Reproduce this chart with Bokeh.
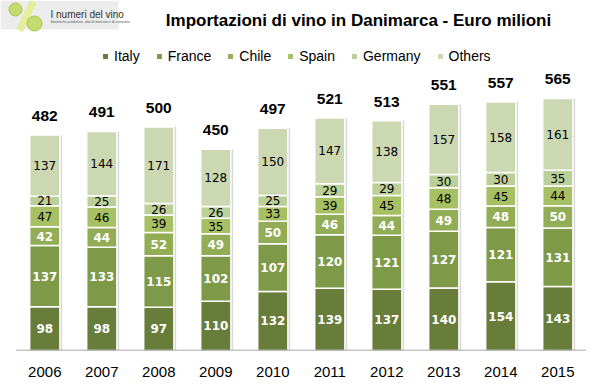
import numpy as np
from bokeh.plotting import figure
from bokeh.models import (Range1d, FixedTicker, Label, Legend, LegendItem,
                          BoxAnnotation, ColumnDataSource)
from bokeh.core.properties import value
from bokeh.embed import file_html
from bokeh.resources import INLINE

years = ["2006", "2007", "2008", "2009", "2010", "2011", "2012", "2013", "2014", "2015"]
countries = ["Italy", "France", "Chile", "Spain", "Germany", "Others"]
italy = [98, 98, 97, 110, 132, 139, 137, 140, 154, 143]
france = [137, 133, 115, 102, 107, 120, 121, 127, 121, 131]
chile = [42, 44, 52, 49, 50, 46, 44, 49, 48, 50]
spain = [47, 46, 39, 35, 33, 39, 45, 48, 45, 44]
germany = [21, 25, 26, 26, 25, 29, 29, 30, 30, 35]
others = [137, 144, 171, 128, 150, 147, 138, 157, 158, 161]
totals = [482, 491, 500, 450, 497, 521, 513, 551, 557, 565]

colors = ["#677D39", "#7E9A48", "#93AD57", "#A7C063", "#BBCF98", "#CBD8B2"]

W, H = 590, 381
PX_X = 57.0      # pixels per category
PX_Y = 0.447     # pixels per unit
BASE = 350       # baseline pixel row


def dx(px):
    return (px - 44.3) / PX_X


def dy(py):
    return (BASE - py) / PX_Y


p = figure(width=W, height=H, output_backend="svg", toolbar_location=None,
           x_range=Range1d(dx(0), dx(W)), y_range=Range1d(0, dy(0)),
           y_axis_location=None, min_border_left=0, min_border_right=0,
           min_border_top=0, min_border_bottom=H - BASE)
p.outline_line_color = None
p.xgrid.visible = False
p.ygrid.visible = False
p.background_fill_color = "white"

xs = list(range(len(years)))
data = dict(x=xs, Italy=italy, France=france, Chile=chile, Spain=spain,
            Germany=germany, Others=others, total=totals)
src = ColumnDataSource(data)

series = np.array([italy, france, chile, spain, germany, others], dtype=float)
cum = np.cumsum(series, axis=0)
tops = cum[-1]

# shadow
p.vbar(x=[x + 0.04 for x in xs], top=list(tops), bottom=0, width=0.53,
       fill_color="#d9d9d9", line_color=None)

rs = p.vbar_stack(countries, x="x", width=0.53, color=colors, source=src,
                  line_color="white", line_width=1.5)

legend = Legend(items=[LegendItem(label=c, renderers=[r]) for c, r in zip(countries, rs)],
                location=(101, BASE - 65), orientation="horizontal",
                glyph_width=8, glyph_height=8, label_standoff=5, spacing=15,
                padding=0, margin=0, border_line_color=None,
                background_fill_alpha=0, label_height=18,
                label_text_font="Liberation Sans", label_text_font_size="14px",
                label_text_color="#000000")
p.add_layout(legend)

# segment labels
mids = cum - series / 2
for k in range(6):
    bold = k < 3
    p.text(x=xs, y=list(mids[k]), text=[str(int(v)) for v in series[k]],
           text_align="center", text_baseline="middle",
           text_font=value("DejaVu Sans"), text_font_size="12px",
           text_font_style="bold" if bold else "normal",
           text_color="white" if bold else "black")

# totals
p.text(x=xs, y=list(tops), text=[str(t) for t in totals], y_offset=-19,
       text_align="center", text_baseline="alphabetic",
       text_font=value("Liberation Sans"), text_font_size="15.5px",
       text_font_style="bold", text_color="black")

# axis
p.xaxis.ticker = FixedTicker(ticks=xs)
p.xaxis.major_label_overrides = {i: y for i, y in enumerate(years)}
p.xaxis.major_tick_line_color = None
p.xaxis.minor_tick_line_color = None
p.xaxis.axis_line_color = None
p.xaxis.major_label_standoff = 10
p.xaxis.major_label_text_font = "Liberation Sans"
p.xaxis.major_label_text_font_size = "15px"
p.xaxis.major_label_text_color = "black"
p.segment(x0=[xs[0] - 0.5], y0=[0], x1=[xs[-1] + 0.5], y1=[0],
          line_color="#8c8c8c", line_width=1.5)

# title
p.add_layout(Label(x=dx(358), y=dy(20), text="Importazioni di vino in Danimarca - Euro milioni",
                   text_align="center", text_baseline="middle",
                   text_font="Liberation Sans", text_font_size="17px",
                   text_font_style="bold", text_color="black"))

# logo
p.add_layout(BoxAnnotation(left=dx(0), right=dx(118), bottom=dy(29), top=dy(0),
                           fill_color="#ececec", fill_alpha=1, line_color=None, level="underlay"))
p.line(x=[dx(33), dx(19)], y=[dy(1), dy(30)], line_color="#e3ee9a", line_width=7)
p.scatter(x=[dx(15), dx(34)], y=[dy(9), dy(23)], size=[13, 15],
          fill_color="#c4dc6e", line_color="#a9c452")
p.add_layout(Label(x=dx(50), y=dy(14), text="I numeri del vino", text_align="left",
                   text_baseline="middle", text_font="Liberation Sans",
                   text_font_size="10px", text_color="#333333"))
p.add_layout(Label(x=dx(50), y=dy(21.5), text="Statistiche produttive, dati di mercato e di consumo.",
                   text_align="left", text_baseline="middle", text_font="Liberation Sans",
                   text_font_size="3.5px", text_color="#555555"))

open("out.html", "w").write(file_html(p, INLINE))
